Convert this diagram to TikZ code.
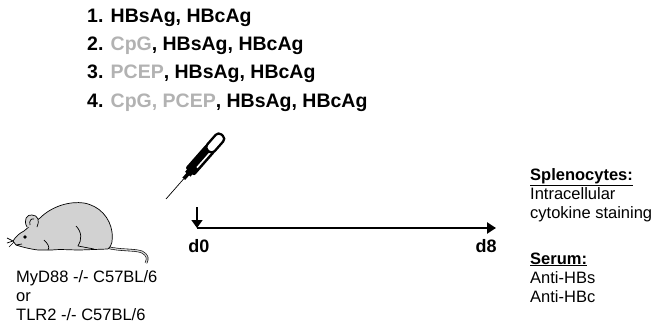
\documentclass[tikz,border=0pt]{standalone}
\usepackage{fontspec}
\setmainfont{Liberation Sans}
\usepackage{tikz}
\usetikzlibrary{arrows.meta}
\definecolor{adj}{HTML}{B2B2B2}
\definecolor{fur}{HTML}{D2D2D2}

\tikzset{
  group/.style={font=\bfseries\fontsize{19.5}{23}\selectfont,anchor=base west,inner sep=0pt},
  day/.style={font=\bfseries\fontsize{18}{21}\selectfont,anchor=base,inner sep=0pt},
  % base of a multi-line node sits on its last line
  info/.style={font=\fontsize{16.5}{19}\selectfont,align=left,anchor=base west,inner sep=0pt},
}

\begin{document}
\begin{tikzpicture}[x=1pt,y=-1pt]
  \useasboundingbox (0,0) rectangle (659,329);

  % vaccine groups
  \node[group] (g1) at (87,23)  {1. HBsAg, HBcAg};
  \node[group] (g2) at (87,51)  {2. \textcolor{adj}{CpG}, HBsAg, HBcAg};
  \node[group] (g3) at (87,79)  {3. \textcolor{adj}{PCEP}, HBsAg, HBcAg};
  \node[group] (g4) at (87,107) {4. \textcolor{adj}{CpG, PCEP}, HBsAg, HBcAg};

  % mouse
  \begin{scope}[line width=0.7pt,line join=round]
    \draw[double=fur,double distance=1.3pt,line width=0.6pt]
      (106,247) .. controls (120,251) and (134,249) .. (142,252)
      .. controls (148,255) and (148,259) .. (146,263);
    \draw[fill=fur] (13,241) .. controls (16,236) and (20,233) .. (24,231)
      .. controls (30,226) and (34,222) .. (40,218)
      .. controls (52,206) and (70,201) .. (84,203)
      .. controls (100,206) and (110,218) .. (112,232)
      .. controls (113,240) and (112,246) .. (108,249)
      -- (80,250) .. controls (70,250) and (60,249) .. (52,250)
      -- (38,250) .. controls (30,249) and (22,247) .. (16,245) -- cycle;
    \draw[fill=fur] (27,227) .. controls (23,220) and (27,214) .. (32,215)
      .. controls (38,215) and (40,221) .. (37,227);
    \draw (30,225) .. controls (29,221) and (31,218) .. (34,219);
    \fill (25,237) circle (1.9);
    \draw (13,241) -- (7,238) (13,241) -- (7,243) (14,242) -- (9,247);
    \draw (16,245) -- (22,244);
    \draw (76,226) .. controls (82,232) and (82,240) .. (78,246) -- (94,249);
    \draw (44,240) .. controls (48,244) and (50,247) .. (48,250);
  \end{scope}
  \node[info] (strain) at (16,320) {MyD88 -/- C57BL/6\\or\\TLR2 -/- C57BL/6};

  % syringe
  \begin{scope}[shift={(166,199)},rotate=48.7]
    \draw[line width=0.7pt] (0,0) -- (28,0);
    \fill (27,-1.8) rectangle (36,1.8);
    \fill (33,-3.6) rectangle (37,3.6);
    \fill[rounded corners=2pt] (36,-6) rectangle (68,6);
    \draw[white,line width=1.6pt] (44,2.6) -- (64,2.6);
    \draw[line width=2.3pt,fill=white,rounded corners=4pt] (64,-5) rectangle (85,5);
  \end{scope}

  % timeline
  \coordinate (inj) at (197,207);
  \coordinate (t0) at (197,228);
  \coordinate (t8) at (496,228);
  \draw[line width=1.5pt,-{Triangle[length=8pt,width=11pt]}] (inj) -- (t0);
  \draw[line width=2.6pt,-{Triangle[length=9pt,width=11pt]}] (t0) -- (t8);
  \node[day] (d0) at (199,252) {d0};
  \node[day] (d8) at (486,252) {d8};

  % read-outs
  \node[info] (spl) at (530,218) {\textbf{\underline{Splenocytes:}}\\Intracellular\\cytokine staining};
  \node[info] (ser) at (530,302) {\textbf{\underline{Serum:}}\\Anti-HBs\\Anti-HBc};
\end{tikzpicture}
\end{document}
